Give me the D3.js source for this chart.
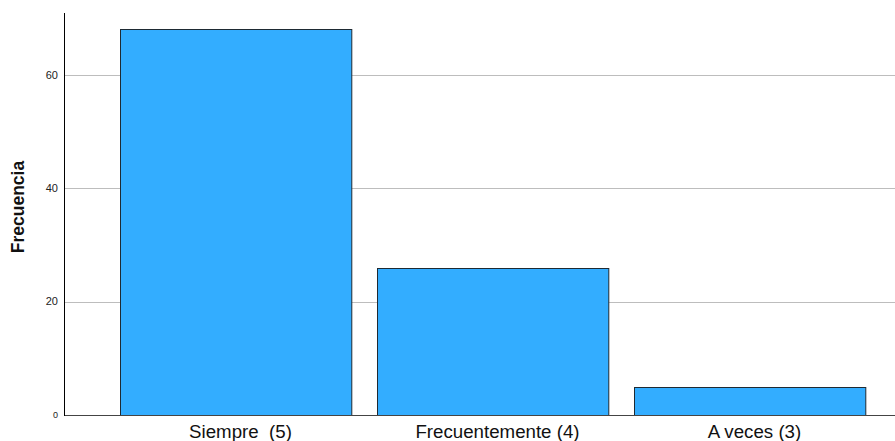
<!DOCTYPE html>
<html><head><meta charset="utf-8">
<script src="https://cdn.jsdelivr.net/npm/d3@7"></script>
<style>body{margin:0;background:#fff}svg{display:block}text{font-family:"Liberation Sans",Arial,sans-serif}</style>
</head><body><svg id="c" width="895" height="441"></svg>
<script>
const categories = ["Siempre  (5)", "Frecuentemente (4)", "A veces (3)"];
const values = [68, 26, 5];
const yTicks = [0, 20, 40, 60];
const yLabel = "Frecuencia";

const svg = d3.select("#c");
const x = d3.scaleBand().domain(categories).range([107, 878]).paddingInner(0.1).paddingOuter(0.05);
const y = d3.scaleLinear().domain([0, 70.9]).range([415, 13]);

// gridlines
svg.selectAll("line.grid").data(yTicks.filter(d => d > 0)).join("line")
  .attr("x1", 64).attr("x2", 895)
  .attr("y1", d => Math.round(y(d)) + 0.5).attr("y2", d => Math.round(y(d)) + 0.5)
  .attr("stroke", "#bdbdbd").attr("stroke-width", 1);

// bars
svg.selectAll("rect.bar").data(values).join("rect")
  .attr("x", (d, i) => Math.round(x(categories[i])) + 0.5)
  .attr("y", d => Math.round(y(d)) + 0.5)
  .attr("width", x.bandwidth())
  .attr("height", d => Math.round(y(0)) - Math.round(y(d)))
  .attr("fill", "#33adff").attr("stroke", "#1e2a33").attr("stroke-width", 1);

// x baseline
svg.append("line").attr("x1", 64).attr("x2", 895).attr("y1", 415.5).attr("y2", 415.5)
  .attr("stroke", "#444").attr("stroke-width", 1);
// y axis line
svg.append("line").attr("x1", 64.5).attr("x2", 64.5).attr("y1", 13).attr("y2", 416)
  .attr("stroke", "#000").attr("stroke-width", 1);

// y tick labels
svg.selectAll("text.yt").data(yTicks).join("text")
  .attr("x", 58).attr("y", d => y(d)).attr("dy", "0.35em")
  .attr("text-anchor", "end").attr("font-size", d => d === 0 ? 9 : 11).attr("fill", "#222")
  .text(d => d);

// x labels
svg.selectAll("text.xt").data(categories).join("text")
  .attr("x", d => x(d) + x.bandwidth() / 2 + 5).attr("y", 438)
  .attr("text-anchor", "middle").attr("font-size", 18.7).attr("fill", "#111")
  .text(d => d).style("white-space", "pre").attr("xml:space", "preserve");

// y axis title
svg.append("text").attr("transform", "translate(24,207) rotate(-90)")
  .attr("text-anchor", "middle").attr("font-size", 17.5).attr("font-weight", "bold").attr("fill", "#111")
  .text(yLabel);
</script></body></html>
